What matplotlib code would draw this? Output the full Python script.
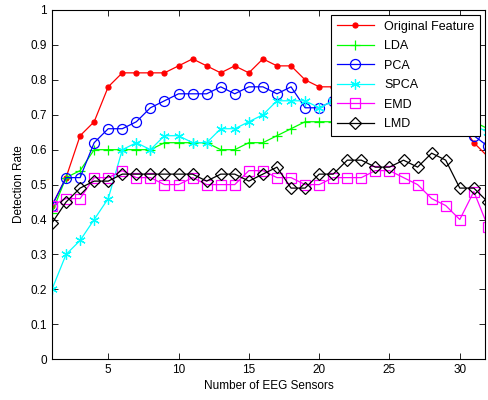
import matplotlib
matplotlib.use("Agg")
import matplotlib.pyplot as plt

plt.rcParams['font.family'] = ['Liberation Sans', 'DejaVu Sans']

sensors = list(range(1, 33))

original = [0.44, 0.52, 0.64, 0.68, 0.78, 0.82, 0.82, 0.82, 0.82, 0.84, 0.86, 0.84,
            0.82, 0.84, 0.82, 0.86, 0.84, 0.84, 0.80, 0.78, 0.78, 0.78, 0.78, 0.76,
            0.76, 0.74, 0.74, 0.72, 0.70, 0.68, 0.62, 0.58]
lda = [0.42, 0.52, 0.54, 0.60, 0.60, 0.60, 0.60, 0.60, 0.62, 0.62, 0.62, 0.62,
       0.60, 0.60, 0.62, 0.62, 0.64, 0.66, 0.68, 0.68, 0.68, 0.68, 0.70, 0.70,
       0.70, 0.70, 0.70, 0.70, 0.70, 0.70, 0.68, 0.66]
pca = [0.44, 0.52, 0.52, 0.62, 0.66, 0.66, 0.68, 0.72, 0.74, 0.76, 0.76, 0.76,
       0.78, 0.76, 0.78, 0.78, 0.76, 0.78, 0.72, 0.72, 0.74, 0.76, 0.76, 0.74,
       0.74, 0.72, 0.72, 0.70, 0.70, 0.68, 0.64, 0.61]
spca = [0.20, 0.30, 0.34, 0.40, 0.46, 0.60, 0.62, 0.60, 0.64, 0.64, 0.62, 0.62,
        0.66, 0.66, 0.68, 0.70, 0.74, 0.74, 0.74, 0.72, 0.74, 0.74, 0.74, 0.74,
        0.72, 0.72, 0.72, 0.72, 0.70, 0.70, 0.67, 0.65]
emd = [0.44, 0.46, 0.46, 0.52, 0.52, 0.54, 0.52, 0.52, 0.50, 0.50, 0.52, 0.50,
       0.50, 0.50, 0.54, 0.54, 0.52, 0.52, 0.50, 0.50, 0.52, 0.52, 0.52, 0.54,
       0.54, 0.52, 0.50, 0.46, 0.44, 0.40, 0.48, 0.38]
lmd = [0.39, 0.45, 0.49, 0.51, 0.51, 0.53, 0.53, 0.53, 0.53, 0.53, 0.53, 0.51,
       0.53, 0.53, 0.51, 0.53, 0.55, 0.49, 0.49, 0.53, 0.53, 0.57, 0.57, 0.55,
       0.55, 0.57, 0.55, 0.59, 0.57, 0.49, 0.49, 0.45]

# MATLAB-style asterisk: six-armed line marker
asterisk = (6, 2, 0)

series = [
    ("Original Feature", original, "#ff0000", "o", 3.6, "full"),
    ("LDA", lda, "#00ff00", "+", 7, "none"),
    ("PCA", pca, "#0000ff", "o", 7.2, "none"),
    ("SPCA", spca, "#00ffff", asterisk, 7.5, "none"),
    ("EMD", emd, "#ff00ff", "s", 7.2, "none"),
    ("LMD", lmd, "#000000", "D", 6, "none"),
]

fig = plt.figure(figsize=(4.89, 4.0), dpi=100)
ax = fig.add_axes([0.1063, 0.102, 0.8857, 0.873])

for name, vals, color, marker, ms, fill in series:
    ax.plot(sensors, vals, color=color, marker=marker, markersize=ms,
            fillstyle=fill, markeredgewidth=0.9, linewidth=0.9, label=name)

ax.set_xlim(1, 31.8)
ax.set_ylim(0, 1)
ax.set_xticks([5, 10, 15, 20, 25, 30])
ax.set_yticks([i / 10 for i in range(11)])
ax.set_yticklabels(["0", "0.1", "0.2", "0.3", "0.4", "0.5", "0.6", "0.7", "0.8", "0.9", "1"])
ax.tick_params(direction="in", top=True, right=True, length=4, width=0.6, labelsize=8.5)
for sp in ax.spines.values():
    sp.set_linewidth(0.8)

ax.set_xlabel("Number of EEG Sensors", fontsize=8.5, labelpad=3)
ax.set_ylabel("Detection Rate", fontsize=8.5, labelpad=4)

leg = ax.legend(loc="upper right", fontsize=9, fancybox=False, framealpha=1,
                edgecolor="black", borderaxespad=0.4, handlelength=3.0,
                labelspacing=0.6, borderpad=0.45)
leg.get_frame().set_linewidth(0.8)

fig.savefig("out.png", dpi=100)
